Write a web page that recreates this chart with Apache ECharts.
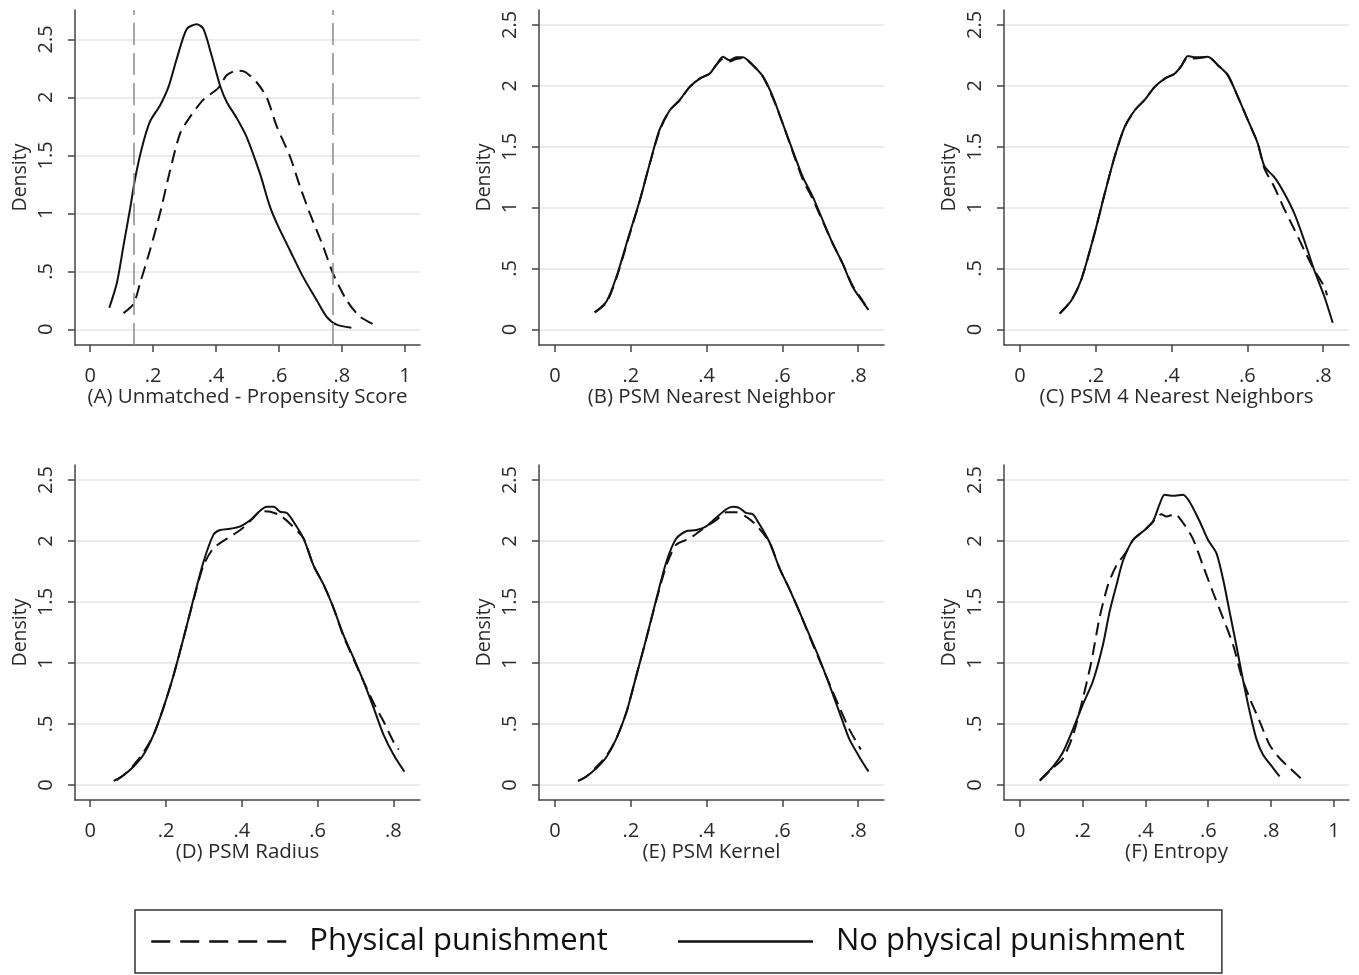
<!DOCTYPE html>
<html>
<head>
<meta charset="utf-8">
<title>Propensity score densities</title>
<script src="https://cdn.jsdelivr.net/npm/echarts@6/dist/echarts.min.js"></script>
<style>
  html, body { margin: 0; background: #fff; }
  #chart { width: 1359px; height: 975px; }
</style>
</head>
<body>
<div id="chart"></div>
<script>
// ---- data ----
const seriesNames = ["Physical punishment", "No physical punishment"];
const panelTitles = [
  "(A) Unmatched - Propensity Score",
  "(B) PSM Nearest Neighbor",
  "(C) PSM 4 Nearest Neighbors",
  "(D) PSM Radius",
  "(E) PSM Kernel",
  "(F) Entropy"
];
const xTicksShort = [0, 0.2, 0.4, 0.6, 0.8];
const xTicksLong = [0, 0.2, 0.4, 0.6, 0.8, 1];
const yTicks = [0, 0.5, 1, 1.5, 2, 2.5];
const commonSupport = [0.1375, 0.767]; // dashed reference lines, panel A

// [propensity score, density]
const aPunished = [[0.106,0.14],[0.138,0.22],[0.159,0.4],[0.19,0.68],[0.222,1.0],[0.254,1.37],[0.286,1.69],[0.317,1.83],[0.36,1.98],[0.407,2.08],[0.434,2.19],[0.466,2.23],[0.492,2.22],[0.529,2.13],[0.561,2.0],[0.593,1.75],[0.635,1.49],[0.667,1.23],[0.698,1.0],[0.741,0.71],[0.772,0.48],[0.815,0.25],[0.857,0.11],[0.91,0.03]];
const aNotPunished = [[0.061,0.186],[0.085,0.4],[0.106,0.72],[0.127,1.04],[0.143,1.3],[0.164,1.56],[0.19,1.79],[0.222,1.93],[0.249,2.09],[0.275,2.33],[0.307,2.59],[0.339,2.63],[0.36,2.59],[0.386,2.36],[0.413,2.1],[0.434,1.96],[0.466,1.82],[0.497,1.66],[0.54,1.34],[0.571,1.06],[0.598,0.885],[0.635,0.68],[0.677,0.45],[0.72,0.25],[0.751,0.11],[0.783,0.04],[0.83,0.014]];

const bPunished = [[0.105,0.14],[0.136,0.22],[0.162,0.42],[0.197,0.78],[0.224,1.06],[0.25,1.36],[0.276,1.63],[0.303,1.8],[0.329,1.88],[0.355,1.99],[0.382,2.06],[0.408,2.1],[0.425,2.17],[0.443,2.22],[0.46,2.2],[0.478,2.22],[0.496,2.23],[0.522,2.17],[0.548,2.08],[0.575,1.9],[0.601,1.69],[0.627,1.46],[0.654,1.23],[0.68,1.07],[0.706,0.89],[0.732,0.71],[0.759,0.54],[0.785,0.36],[0.811,0.24],[0.827,0.16]];
const bNotPunished = [[0.105,0.14],[0.136,0.23],[0.162,0.43],[0.197,0.79],[0.224,1.06],[0.25,1.36],[0.276,1.64],[0.303,1.8],[0.329,1.885],[0.355,1.99],[0.382,2.06],[0.408,2.1],[0.425,2.17],[0.443,2.24],[0.46,2.21],[0.478,2.235],[0.496,2.235],[0.522,2.17],[0.548,2.08],[0.575,1.91],[0.601,1.69],[0.627,1.47],[0.654,1.25],[0.68,1.09],[0.706,0.9],[0.732,0.71],[0.759,0.54],[0.785,0.35],[0.811,0.23],[0.827,0.16]];

const cPunished = [[0.105,0.13],[0.136,0.24],[0.162,0.41],[0.197,0.79],[0.224,1.12],[0.25,1.42],[0.276,1.66],[0.303,1.8],[0.329,1.885],[0.355,1.99],[0.382,2.06],[0.408,2.1],[0.425,2.16],[0.443,2.235],[0.46,2.225],[0.478,2.23],[0.496,2.24],[0.522,2.17],[0.548,2.09],[0.575,1.91],[0.601,1.72],[0.627,1.53],[0.645,1.32],[0.671,1.17],[0.697,0.99],[0.724,0.82],[0.75,0.65],[0.776,0.49],[0.803,0.35],[0.81,0.28]];
const cNotPunished = [[0.105,0.13],[0.136,0.24],[0.162,0.41],[0.197,0.79],[0.224,1.12],[0.25,1.42],[0.276,1.66],[0.303,1.8],[0.329,1.885],[0.355,1.99],[0.382,2.06],[0.408,2.1],[0.425,2.16],[0.443,2.245],[0.46,2.235],[0.478,2.235],[0.496,2.24],[0.522,2.17],[0.548,2.09],[0.575,1.91],[0.601,1.72],[0.627,1.53],[0.645,1.34],[0.671,1.25],[0.697,1.12],[0.724,0.95],[0.75,0.73],[0.776,0.49],[0.803,0.27],[0.825,0.055]];

const dPunished = [[0.07,0.04],[0.088,0.08],[0.114,0.16],[0.141,0.27],[0.167,0.41],[0.193,0.63],[0.22,0.9],[0.246,1.2],[0.273,1.52],[0.299,1.8],[0.325,1.94],[0.361,2.02],[0.396,2.09],[0.431,2.19],[0.449,2.245],[0.475,2.24],[0.501,2.21],[0.528,2.14],[0.563,2.02],[0.589,1.8],[0.616,1.64],[0.642,1.45],[0.668,1.22],[0.695,1.03],[0.721,0.85],[0.748,0.67],[0.774,0.52],[0.8,0.355],[0.814,0.29]];
const dNotPunished = [[0.062,0.033],[0.088,0.08],[0.114,0.15],[0.141,0.25],[0.167,0.41],[0.193,0.63],[0.22,0.9],[0.246,1.2],[0.273,1.53],[0.299,1.83],[0.325,2.05],[0.343,2.09],[0.369,2.1],[0.396,2.12],[0.422,2.17],[0.449,2.25],[0.466,2.28],[0.484,2.28],[0.501,2.24],[0.519,2.23],[0.536,2.16],[0.563,2.02],[0.589,1.8],[0.616,1.64],[0.642,1.45],[0.668,1.23],[0.695,1.04],[0.721,0.85],[0.748,0.63],[0.774,0.41],[0.8,0.25],[0.829,0.11]];

const ePunished = [[0.061,0.033],[0.083,0.07],[0.11,0.15],[0.136,0.24],[0.162,0.38],[0.189,0.6],[0.215,0.9],[0.241,1.2],[0.268,1.52],[0.294,1.8],[0.32,1.97],[0.355,2.02],[0.39,2.1],[0.425,2.17],[0.452,2.235],[0.478,2.235],[0.504,2.2],[0.531,2.13],[0.566,1.99],[0.592,1.78],[0.618,1.61],[0.645,1.42],[0.671,1.22],[0.697,1.03],[0.724,0.83],[0.75,0.64],[0.776,0.46],[0.807,0.29]];
const eNotPunished = [[0.061,0.033],[0.083,0.07],[0.11,0.14],[0.136,0.23],[0.162,0.38],[0.189,0.6],[0.215,0.9],[0.241,1.2],[0.268,1.53],[0.294,1.83],[0.32,2.02],[0.346,2.08],[0.373,2.09],[0.399,2.12],[0.425,2.19],[0.452,2.26],[0.469,2.28],[0.487,2.27],[0.504,2.23],[0.522,2.22],[0.539,2.14],[0.566,1.99],[0.592,1.78],[0.618,1.61],[0.645,1.42],[0.671,1.23],[0.697,1.04],[0.724,0.82],[0.75,0.6],[0.776,0.38],[0.803,0.23],[0.827,0.11]];

const fPunished = [[0.064,0.035],[0.106,0.14],[0.138,0.22],[0.17,0.41],[0.201,0.71],[0.228,1.01],[0.254,1.37],[0.281,1.64],[0.308,1.8],[0.339,1.91],[0.361,2.01],[0.398,2.09],[0.429,2.17],[0.451,2.22],[0.467,2.2],[0.493,2.22],[0.525,2.13],[0.551,2.02],[0.583,1.8],[0.615,1.58],[0.647,1.37],[0.679,1.15],[0.705,0.9],[0.732,0.71],[0.764,0.52],[0.795,0.33],[0.827,0.22],[0.859,0.14],[0.901,0.04]];
const fNotPunished = [[0.064,0.04],[0.106,0.15],[0.138,0.27],[0.17,0.46],[0.201,0.66],[0.233,0.85],[0.265,1.15],[0.286,1.42],[0.308,1.64],[0.329,1.84],[0.361,2.01],[0.398,2.09],[0.424,2.16],[0.445,2.3],[0.461,2.38],[0.488,2.37],[0.52,2.38],[0.541,2.32],[0.573,2.16],[0.599,2.01],[0.626,1.9],[0.647,1.69],[0.668,1.42],[0.689,1.15],[0.71,0.87],[0.732,0.6],[0.753,0.38],[0.774,0.25],[0.806,0.14],[0.827,0.07]];

const panelData = [
  [aPunished, aNotPunished],
  [bPunished, bNotPunished],
  [cPunished, cNotPunished],
  [dPunished, dNotPunished],
  [ePunished, eNotPunished],
  [fPunished, fNotPunished]
];

// ---- layout ----
const FONT = "'Open Sans', 'Noto Sans', sans-serif";
const TEXT = "#2a2a2a";
const colLeft = [75, 539, 1004];
const rowTop = [10, 465];
const plotW = 345, plotH = 335;

// axis extents per panel (Stata pads the plot region past the data)
const xRange = [[-0.048, 1.048], [-0.042, 0.868], [-0.042, 0.868], [-0.04, 0.87], [-0.042, 0.868], [-0.05, 1.048]];
const yRange = [[-0.135, 2.753], [-0.128, 2.623], [-0.128, 2.623], [-0.123, 2.623], [-0.123, 2.623], [-0.123, 2.623]];

const stripZero = v => (v === 0 ? "0" : String(+v.toFixed(2)).replace(/^0\./, "."));

const grids = [], xAxes = [], yAxes = [], series = [];
panelTitles.forEach((title, i) => {
  const col = i % 3, row = Math.floor(i / 3);
  grids.push({ left: colLeft[col], top: rowTop[row], width: plotW, height: plotH, outerBoundsMode: "none" });
  const xt = (i === 0 || i === 5) ? xTicksLong : xTicksShort;
  xAxes.push({
    type: "value", gridIndex: i, min: xRange[i][0], max: xRange[i][1],
    name: title, nameLocation: "middle", nameGap: 41,
    nameTextStyle: { fontFamily: FONT, fontSize: 20.5, color: TEXT },
    axisLine: { show: true, onZero: false, lineStyle: { color: "#444", width: 1.5 } },
    axisTick: { show: true, length: 7, customValues: xt, lineStyle: { color: "#444", width: 1.5 } },
    axisLabel: { customValues: xt, formatter: stripZero, margin: 21, fontFamily: FONT, fontSize: 20, color: TEXT },
    splitLine: { show: false }
  });
  yAxes.push({
    type: "value", gridIndex: i, min: yRange[i][0], max: yRange[i][1],
    name: "Density", nameLocation: "middle", nameGap: 45, nameRotate: 90,
    nameTextStyle: { fontFamily: FONT, fontSize: 19.5, color: TEXT },
    axisLine: { show: true, onZero: false, lineStyle: { color: "#444", width: 1.5 } },
    axisTick: { show: true, length: 7, customValues: yTicks, lineStyle: { color: "#444", width: 1.5 } },
    axisLabel: { customValues: yTicks, formatter: stripZero, rotate: 90, margin: 19, fontFamily: FONT, fontSize: 20, color: TEXT },
    splitLine: { show: true, lineStyle: { color: "#e4e4e4", width: 1.5 } }
  });
  panelData[i].forEach((pts, s) => {
    const item = {
      name: seriesNames[s], type: "line", xAxisIndex: i, yAxisIndex: i,
      data: pts, symbol: "none", smooth: 0.25, silent: true,
      itemStyle: { color: "#111" },
      lineStyle: { color: "#111", width: 2, type: s === 0 ? [13, 7] : "solid" },
      z: s === 0 ? 3 : 4
    };
    if (i === 0 && s === 0) {
      item.markLine = {
        silent: true, symbol: "none", label: { show: false },
        lineStyle: { color: "#8a8a8a", width: 1.5, type: [22, 8] },
        data: commonSupport.map(v => ({ xAxis: v }))
      };
    }
    series.push(item);
  });
});

const chart = echarts.init(document.getElementById("chart"), null, { renderer: "canvas" });
chart.setOption({
  animation: false,
  backgroundColor: "#fff",
  grid: grids,
  xAxis: xAxes,
  yAxis: yAxes,
  legend: {
    left: 135, top: 910,
    padding: [16, 37, 16, 15],
    itemWidth: 135, itemHeight: 24, itemGap: 69,
    borderColor: "#333", borderWidth: 1.5,
    selectedMode: false,
    textStyle: { fontFamily: FONT, fontSize: 31, color: "#111", lineHeight: 30, padding: [0, 0, 0, 18] },
    data: [
      { name: seriesNames[0], itemStyle: { opacity: 0 }, lineStyle: { type: [19, 10], width: 2.5, color: "#111" } },
      { name: seriesNames[1], itemStyle: { opacity: 0 }, lineStyle: { type: "solid", width: 2.5, color: "#111" } }
    ]
  },
  series: series
});
</script>
</body>
</html>
